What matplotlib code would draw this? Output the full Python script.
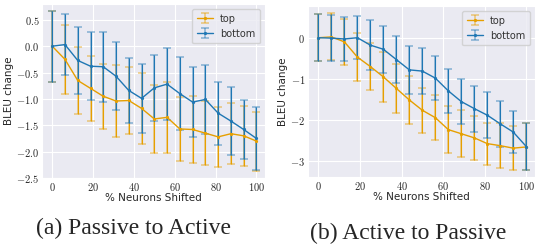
import numpy as np
import matplotlib
matplotlib.use("Agg")
import matplotlib.pyplot as plt
import seaborn as sns

sns.set_style("darkgrid")
plt.rcParams['font.family'] = ['DejaVu Sans']
plt.rcParams['mathtext.fontset'] = 'cm'

x = [0, 6.25, 12.5, 18.75, 25, 31.25, 37.5, 43.75, 50, 56.25, 62.5, 68.75, 75, 81.25, 87.5, 93.75, 100]

# (a) Passive to Active
a_top = [0, -0.25, -0.65, -0.80, -0.95, -1.04, -1.03, -1.18, -1.38, -1.35, -1.57, -1.58, -1.65, -1.72, -1.66, -1.70, -1.80]
a_top_err = [0.67, 0.66, 0.64, 0.62, 0.62, 0.68, 0.63, 0.68, 0.65, 0.67, 0.61, 0.63, 0.61, 0.57, 0.58, 0.57, 0.56]
a_bot = [0, 0.03, -0.27, -0.38, -0.39, -0.57, -0.84, -0.99, -0.79, -0.72, -0.90, -1.06, -1.01, -1.27, -1.42, -1.58, -1.75]
a_bot_err = [0.67, 0.58, 0.64, 0.65, 0.66, 0.64, 0.61, 0.66, 0.63, 0.68, 0.69, 0.67, 0.65, 0.60, 0.65, 0.56, 0.59]

# (b) Active to Passive
b_top = [0, 0.02, -0.10, -0.47, -0.70, -0.95, -1.23, -1.51, -1.76, -1.94, -2.23, -2.33, -2.43, -2.57, -2.62, -2.68, -2.65]
b_top_err = [0.57, 0.57, 0.56, 0.58, 0.58, 0.60, 0.59, 0.59, 0.55, 0.54, 0.57, 0.57, 0.54, 0.51, 0.55, 0.53, 0.57]
b_bot = [0, -0.01, -0.03, 0.00, -0.18, -0.28, -0.53, -0.78, -0.81, -0.98, -1.29, -1.55, -1.72, -1.88, -2.09, -2.29, -2.64]
b_bot_err = [0.57, 0.56, 0.54, 0.52, 0.60, 0.57, 0.56, 0.58, 0.56, 0.53, 0.53, 0.55, 0.56, 0.56, 0.56, 0.50, 0.56]

xticks = [0, 20, 40, 60, 80, 100]
a_yticks = [0.5, 0.0, -0.5, -1.0, -1.5, -2.0, -2.5]
b_yticks = [0, -1, -2, -3]
captions = ["(a) Passive to Active", "(b) Active to Passive"]

c_top = '#E69F00'
c_bot = '#1F77B4'

fig = plt.figure(figsize=(5.35, 2.46), dpi=100)
ax1 = fig.add_axes([42/535, 1-178/246, 223/535, 174/246])
ax2 = fig.add_axes([308/535, 1-177/246, 227/535, 171/246])

def draw(ax, top, top_err, bot, bot_err, yticks, fmt, ylim):
    for y, e, c, lab in [(top, top_err, c_top, 'top'), (bot, bot_err, c_bot, 'bottom')]:
        eb = ax.errorbar(x, y, yerr=e, color=c, lw=1.0, marker='o', ms=1.3,
                         capsize=3.2, elinewidth=1.4, capthick=1.4, label=lab)
        for art in eb[1]:
            art.set_alpha(0.4)
        for art in eb[2]:
            art.set_alpha(0.4)
        ax.errorbar(x, y, yerr=e, color=c, lw=0, elinewidth=0.8, fmt='none')
    ax.set_xticks(xticks)
    ax.set_xticklabels([f"${t}$" for t in xticks])
    ax.set_yticks(yticks)
    ax.set_yticklabels([("$" + fmt.format(t) + "$") for t in yticks])
    ax.set_xlim(-5, 104.2)
    ax.set_ylim(*ylim)
    ax.tick_params(labelsize=7.5, pad=2, length=0)
    ax.set_xlabel('% Neurons Shifted', fontsize=7.5, labelpad=0)
    ax.set_ylabel('BLEU change', fontsize=7.5, labelpad=2)
    ax.legend(loc='upper right', fontsize=7, handlelength=1.7, borderpad=0.5,
              labelcolor='#333333', handletextpad=0.7)

draw(ax1, a_top, a_top_err, a_bot, a_bot_err, a_yticks, "{:.1f}", (-2.5, 0.8))
draw(ax2, b_top, b_top_err, b_bot, b_bot_err, b_yticks, "{:d}", (-3.38, 0.77))

fig.text(0.250, 0.07, captions[0], ha='center', va='center', fontsize=17, family='Liberation Serif')
fig.text(0.763, 0.053, captions[1], ha='center', va='center', fontsize=17, family='Liberation Serif')

fig.savefig('out.png', dpi=100)
